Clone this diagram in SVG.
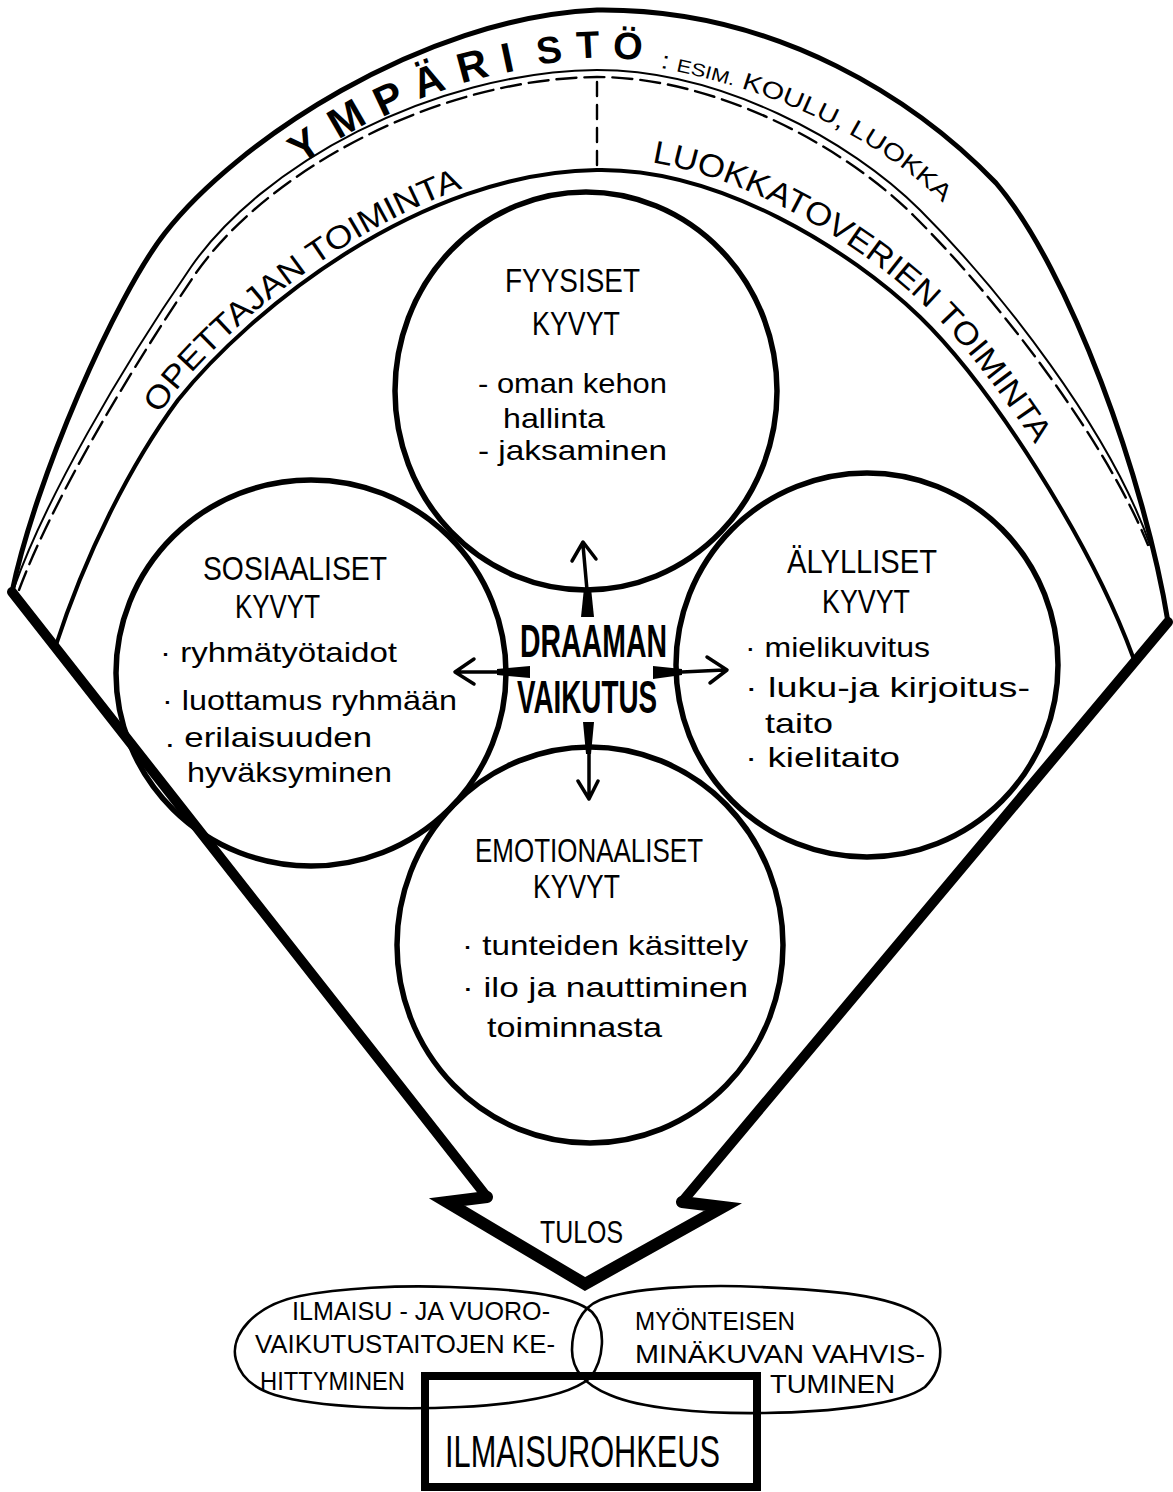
<svg xmlns="http://www.w3.org/2000/svg" width="1173" height="1492" viewBox="0 0 1173 1492">
  <style>
    .ln { fill: none; stroke: #000; stroke-linecap: round; stroke-linejoin: round; }
    .outer { stroke-width: 5; }
    .thin { stroke-width: 2; }
    .dash { stroke-width: 2.4; stroke-dasharray: 20 8; }
    .band { stroke-width: 4; }
    .circle { fill: none; stroke: #000; stroke-width: 5.5; }
    .shaft { fill: none; stroke: #000; stroke-width: 10; stroke-linejoin: miter; stroke-miterlimit: 6; stroke-linecap: round; }
    .head { fill: none; stroke: #000; stroke-width: 12; stroke-linejoin: miter; stroke-miterlimit: 6; stroke-linecap: round; }
    .blob { fill: none; stroke: #000; stroke-width: 2.6; }
    .t { font-family: "Liberation Sans", Arial, sans-serif; fill: #000; }
    .cap { font-size: 33px; }
    .hand { font-size: 28px; }
    .big { font-size: 42px; font-weight: bold; }
    .band-t { font-size: 32px; }
    .small { font-size: 25px; }
    .wedge { fill: #000; }
    .arr { fill: none; stroke: #000; stroke-width: 3.5; stroke-linecap: round; stroke-linejoin: round; }
  </style>
  <defs>
    <!-- baselines for the lettering that follows the bands -->
    <path id="p-opettaja" d="M159,416 L172,396 C244,306 418,165 597,163"/>
    <path id="p-luokka" d="M597,158 C720,156 858,240 928,309 C998,376 1101,534 1144,653"/>
    <path id="p-esim" d="M650,66 C768,87 874,134 945,205"/>
  </defs>

  <!-- fan-shaped environment bands -->
  <g id="ymparisto">
    <path class="ln outer" d="M12,592 C35,480 115,297 165,233 C235,143 420,18 597,10 C780,8 920,104 996,183 C1070,270 1145,480 1168,622"/>
    <path class="ln thin" d="M14,588 C45,500 120,370 191,267 C261,166 430,72 597,70 C720,70 850,140 920,210 C1000,290 1110,430 1150,545"/>
    <path class="ln dash" d="M19,590 C51,504 126,376 196,273 C266,173 433,79 597,77 C717,77 845,147 914,216 C994,295 1103,435 1148,545"/>
    <g class="t big">
      <text transform="translate(304,145) rotate(-35)" x="0" y="15" text-anchor="middle">Y</text>
      <text transform="translate(346,118) rotate(-30)" x="0" y="15" text-anchor="middle">M</text>
      <text transform="translate(388,98) rotate(-25)" x="0" y="15" text-anchor="middle">P</text>
      <text transform="translate(428,80) rotate(-20)" x="0" y="15" text-anchor="middle">Ä</text>
      <text transform="translate(472,65) rotate(-15)" x="0" y="15" text-anchor="middle">R</text>
      <text transform="translate(507,57) rotate(-12)" x="0" y="15" text-anchor="middle">I</text>
      <text transform="translate(549,50) rotate(-8)" x="0" y="13" text-anchor="middle" font-size="38">S</text>
      <text transform="translate(588,45) rotate(-3)" x="0" y="13" text-anchor="middle" font-size="38">T</text>
      <text transform="translate(628,46) rotate(3)" x="0" y="13" text-anchor="middle" font-size="38">Ö</text>
    </g>
    <text class="t" font-size="24"><textPath href="#p-esim" startOffset="10" textLength="318" lengthAdjust="spacingAndGlyphs">: <tspan font-size="18">ESIM.</tspan> KOULU, LUOKKA</textPath></text>
  </g>

  <g id="opettajan-toiminta">
    <path class="ln band" d="M55,648 C85,555 130,465 178,400 C250,310 420,172 597,170"/>
    <text class="t band-t"><textPath href="#p-opettaja" startOffset="2" textLength="383" lengthAdjust="spacingAndGlyphs">OPETTAJAN TOIMINTA</textPath></text>
  </g>

  <g id="luokkatoverien-toiminta">
    <path class="ln band" d="M597,170 C720,168 850,250 920,317 C990,385 1090,540 1133,657"/>
    <path class="ln" stroke-width="2.4" stroke-dasharray="14 9" d="M597,82 L597,166"/>
    <text class="t band-t"><textPath href="#p-luokka" startOffset="55" textLength="490" lengthAdjust="spacingAndGlyphs">LUOKKATOVERIEN TOIMINTA</textPath></text>
  </g>

  <!-- big result arrow -->
  <g id="tulos">
    <path class="shaft" d="M12,592 L487,1197"/>
    <path class="shaft" d="M1168,622 L682,1202"/>
    <path class="head" d="M487,1197 L447,1202 L585,1284 L723,1207 L682,1202"/>
    <text class="t" font-size="31" x="540" y="1243" textLength="83" lengthAdjust="spacingAndGlyphs">TULOS</text>
  </g>

  <!-- ability circles -->
  <g id="fyysiset">
    <ellipse class="circle" cx="586" cy="391" rx="191" ry="199"/>
    <text class="t cap" x="505" y="292" textLength="135" lengthAdjust="spacingAndGlyphs">FYYSISET</text>
    <text class="t cap" x="532" y="335" textLength="88" lengthAdjust="spacingAndGlyphs">KYVYT</text>
    <text class="t hand" x="478" y="393" textLength="189" lengthAdjust="spacingAndGlyphs">- oman kehon</text>
    <text class="t hand" x="503" y="428" textLength="102" lengthAdjust="spacingAndGlyphs">hallinta</text>
    <text class="t hand" x="478" y="460" textLength="189" lengthAdjust="spacingAndGlyphs">- jaksaminen</text>
  </g>

  <g id="sosiaaliset">
    <ellipse class="circle" cx="311" cy="673" rx="195" ry="193"/>
    <text class="t cap" x="203" y="580" textLength="184" lengthAdjust="spacingAndGlyphs">SOSIAALISET</text>
    <text class="t cap" x="235" y="618" textLength="85" lengthAdjust="spacingAndGlyphs">KYVYT</text>
    <text class="t hand" x="160" y="662" textLength="237" lengthAdjust="spacingAndGlyphs">· ryhmätyötaidot</text>
    <text class="t hand" x="162" y="710" textLength="295" lengthAdjust="spacingAndGlyphs">· luottamus ryhmään</text>
    <text class="t hand" x="165" y="747" textLength="207" lengthAdjust="spacingAndGlyphs">. erilaisuuden</text>
    <text class="t hand" x="187" y="782" textLength="205" lengthAdjust="spacingAndGlyphs">hyväksyminen</text>
  </g>

  <g id="alylliset">
    <ellipse class="circle" cx="867" cy="665" rx="191" ry="192"/>
    <text class="t cap" x="787" y="573" textLength="150" lengthAdjust="spacingAndGlyphs">ÄLYLLISET</text>
    <text class="t cap" x="822" y="613" textLength="88" lengthAdjust="spacingAndGlyphs">KYVYT</text>
    <text class="t hand" x="745" y="657" textLength="185" lengthAdjust="spacingAndGlyphs">· mielikuvitus</text>
    <text class="t hand" x="745" y="697" textLength="285" lengthAdjust="spacingAndGlyphs">· luku-ja kirjoitus-</text>
    <text class="t hand" x="765" y="733" textLength="68" lengthAdjust="spacingAndGlyphs">taito</text>
    <text class="t hand" x="745" y="767" textLength="155" lengthAdjust="spacingAndGlyphs">· kielitaito</text>
  </g>

  <g id="emotionaaliset">
    <ellipse class="circle" cx="590" cy="945" rx="193" ry="198"/>
    <text class="t cap" x="475" y="862" textLength="228" lengthAdjust="spacingAndGlyphs">EMOTIONAALISET</text>
    <text class="t cap" x="533" y="898" textLength="87" lengthAdjust="spacingAndGlyphs">KYVYT</text>
    <text class="t hand" x="462" y="955" textLength="286" lengthAdjust="spacingAndGlyphs">· tunteiden käsittely</text>
    <text class="t hand" x="462" y="997" textLength="286" lengthAdjust="spacingAndGlyphs">· ilo ja nauttiminen</text>
    <text class="t hand" x="487" y="1037" textLength="175" lengthAdjust="spacingAndGlyphs">toiminnasta</text>
  </g>

  <g id="draaman-vaikutus">
    <text class="t" font-size="46" font-weight="bold" x="520" y="657" textLength="147" lengthAdjust="spacingAndGlyphs">DRAAMAN</text>
    <text class="t" font-size="46" font-weight="bold" x="517" y="713" textLength="140" lengthAdjust="spacingAndGlyphs">VAIKUTUS</text>
  </g>

  <!-- arrows from the centre to each circle -->
  <g id="connectors">
    <polygon class="wedge" points="581,617 594,617 591,588 584,588"/>
    <path class="arr" d="M587,590 L583,545 M572,561 L583,542 L596,559"/>
    <polygon class="wedge" points="530,666 530,678 497,675 497,669"/>
    <path class="arr" d="M498,672 L458,672 M474,659 L455,672 L474,684"/>
    <polygon class="wedge" points="653,666 653,679 682,675 682,669"/>
    <path class="arr" d="M682,672 L724,670 M707,657 L727,670 L710,683"/>
    <polygon class="wedge" points="583,722 594,722 591,754 586,754"/>
    <path class="arr" d="M589,752 L589,796 M578,781 L589,799 L598,781"/>
  </g>

  <!-- outcomes -->
  <g id="ilmaisurohkeus">
    <rect x="425" y="1376" width="332" height="111" fill="none" stroke="#000" stroke-width="8"/>
    <text class="t" font-size="44" x="445" y="1467" textLength="275" lengthAdjust="spacingAndGlyphs">ILMAISUROHKEUS</text>
  </g>

  <g id="vuorovaikutustaidot">
    <path class="ln blob" d="M236,1360 C229,1335 255,1305 300,1296 C340,1288 400,1285 450,1287 C510,1289 570,1293 592,1312 C607,1328 604,1360 590,1378 C570,1395 520,1404 460,1407 C400,1410 320,1408 275,1395 C252,1388 240,1375 236,1360 Z"/>
    <text class="t small" x="292" y="1320" textLength="258" lengthAdjust="spacingAndGlyphs">ILMAISU - JA VUORO-</text>
    <text class="t small" x="255" y="1353" textLength="300" lengthAdjust="spacingAndGlyphs">VAIKUTUSTAITOJEN KE-</text>
    <text class="t small" x="260" y="1390" textLength="145" lengthAdjust="spacingAndGlyphs">HITTYMINEN</text>
  </g>

  <g id="minakuva">
    <path class="ln blob" d="M600,1300 C630,1288 700,1284 760,1287 C830,1290 890,1295 920,1315 C945,1330 947,1365 925,1387 C900,1405 830,1412 765,1413 C700,1414 640,1408 610,1395 C585,1385 572,1370 572,1350 C572,1330 580,1308 600,1300 Z"/>
    <text class="t small" x="635" y="1330" textLength="160" lengthAdjust="spacingAndGlyphs">MYÖNTEISEN</text>
    <text class="t small" x="635" y="1363" textLength="290" lengthAdjust="spacingAndGlyphs">MINÄKUVAN VAHVIS-</text>
    <text class="t small" x="770" y="1393" textLength="125" lengthAdjust="spacingAndGlyphs">TUMINEN</text>
  </g>
</svg>
